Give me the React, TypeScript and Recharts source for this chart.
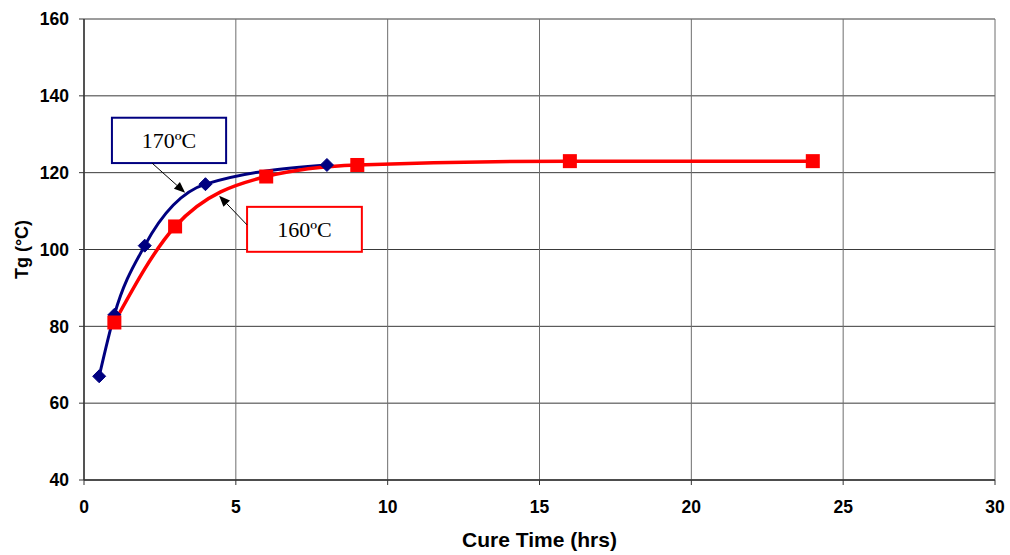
import React from 'react';
import { LineChart, Line, XAxis, YAxis, CartesianGrid, ReferenceArea, ReferenceLine, Label } from 'recharts';

const time170 = [0.5, 1, 2, 4, 8];
const tg170 = [67, 83, 101, 117, 122];
const time160 = [1, 3, 6, 9, 16, 24];
const tg160 = [81, 106, 119, 122, 123, 123];
const xTicks = [0, 5, 10, 15, 20, 25, 30];
const yTicks = [40, 60, 80, 100, 120, 140, 160];

const label170 = '170ºC';
const label160 = '160ºC';
// annotation boxes and arrows in data coordinates
const box170 = { x1: 0.92, x2: 4.68, y1: 122.5, y2: 134.3 };
const box160 = { x1: 5.37, x2: 9.15, y1: 99.4, y2: 111.1 };
const arrow170 = [{ x: 2.24, y: 122.5 }, { x: 3.33, y: 114.8 }];
const arrow160 = [{ x: 5.37, y: 106.4 }, { x: 4.45, y: 114.0 }];

const data170 = time170.map((t, i) => ({ t, v: tg170[i] }));
const data160 = time160.map((t, i) => ({ t, v: tg160[i] }));

const BLUE = '#000080';
const RED = '#FF0000';
const SANS = '"Liberation Sans", Arial, sans-serif';
const SERIF = '"Liberation Serif", "Times New Roman", serif';

const diamond = (p: any) => {
  const { cx, cy, index } = p;
  const r = 6.5;
  return (
    <path key={`d${index}`} d={`M${cx},${cy - r}L${cx + r},${cy}L${cx},${cy + r}L${cx - r},${cy}Z`} fill={BLUE} stroke={BLUE} />
  );
};

const square = (p: any) => {
  const { cx, cy, index } = p;
  const s = 7;
  return <rect key={`s${index}`} x={cx - s} y={cy - s} width={2 * s} height={2 * s} fill={RED} />;
};

const boxShape = (text: string, color: string) => (p: any) => (
  <g>
    <rect x={p.x} y={p.y} width={p.width} height={p.height} fill="#fff" stroke={color} strokeWidth={2} />
    <text x={p.x + p.width / 2} y={p.y + p.height / 2} dy="0.36em" textAnchor="middle" fontFamily={SERIF} fontSize={22} fill="#000">
      {text}
    </text>
  </g>
);

const arrowShape = (p: any) => {
  const { x1, y1, x2, y2 } = p;
  const dx = x2 - x1;
  const dy = y2 - y1;
  const len = Math.sqrt(dx * dx + dy * dy);
  const ux = dx / len;
  const uy = dy / len;
  const hl = 11;
  const hw = 4.5;
  const bx = x2 - ux * hl;
  const by = y2 - uy * hl;
  return (
    <g>
      <line x1={x1} y1={y1} x2={bx} y2={by} stroke="#000" strokeWidth={1} />
      <path d={`M${x2},${y2}L${bx - uy * hw},${by + ux * hw}L${bx + uy * hw},${by - ux * hw}Z`} fill="#000" />
    </g>
  );
};

export default function App() {
  return (
    <div style={{ position: 'absolute', left: 0, top: 0, background: '#fff' }}>
      <LineChart width={1010} height={555} margin={{ top: 19, right: 15, bottom: 0, left: 0 }}>
        <CartesianGrid horizontal={true} vertical={false} stroke="#3a3a3a" strokeWidth={1} />
        <CartesianGrid horizontal={false} vertical={true} stroke="#6e6e6e" strokeWidth={1} />
        <XAxis
          type="number"
          dataKey="t"
          domain={[0, 30]}
          ticks={xTicks}
          allowDataOverflow
          height={75}
          tickSize={5}
          tickMargin={16}
          axisLine={{ stroke: '#333', strokeWidth: 1.5 }}
          tickLine={{ stroke: '#333' }}
          tick={{ fill: '#000', fontFamily: SANS, fontWeight: 'bold', fontSize: 17.5 }}
        >
          <Label
            content={({ viewBox }: any) => (
              <text x={viewBox.x + viewBox.width / 2} y={viewBox.y + 67} textAnchor="middle" fontFamily={SANS} fontWeight="bold" fontSize={21} fill="#000">
                Cure Time (hrs)
              </text>
            )}
          />
        </XAxis>
        <YAxis
          type="number"
          domain={[40, 160]}
          ticks={yTicks}
          width={84}
          tickSize={5}
          tickMargin={10}
          axisLine={{ stroke: '#333', strokeWidth: 1.5 }}
          tickLine={{ stroke: '#333' }}
          tick={{ fill: '#000', fontFamily: SANS, fontWeight: 'bold', fontSize: 17.5 }}
        >
          <Label
            content={({ viewBox }: any) => {
              const cx = 22;
              const cy = viewBox.y + viewBox.height / 2;
              return (
                <text x={cx} y={cy} transform={`rotate(-90 ${cx} ${cy})`} dy="0.36em" textAnchor="middle" fontFamily={SANS} fontWeight="bold" fontSize={18} fill="#000">
                  Tg (°C)
                </text>
              );
            }}
          />
        </YAxis>
        <Line data={data170} dataKey="v" type="monotone" stroke={BLUE} strokeWidth={3} dot={diamond} isAnimationActive={false} />
        <Line data={data160} dataKey="v" type="monotone" stroke={RED} strokeWidth={3.5} dot={square} isAnimationActive={false} />
        <ReferenceLine segment={arrow170} shape={arrowShape} ifOverflow="visible" />
        <ReferenceLine segment={arrow160} shape={arrowShape} ifOverflow="visible" />
        <ReferenceArea {...box170} shape={boxShape(label170, BLUE)} ifOverflow="visible" />
        <ReferenceArea {...box160} shape={boxShape(label160, RED)} ifOverflow="visible" />
      </LineChart>
    </div>
  );
}
